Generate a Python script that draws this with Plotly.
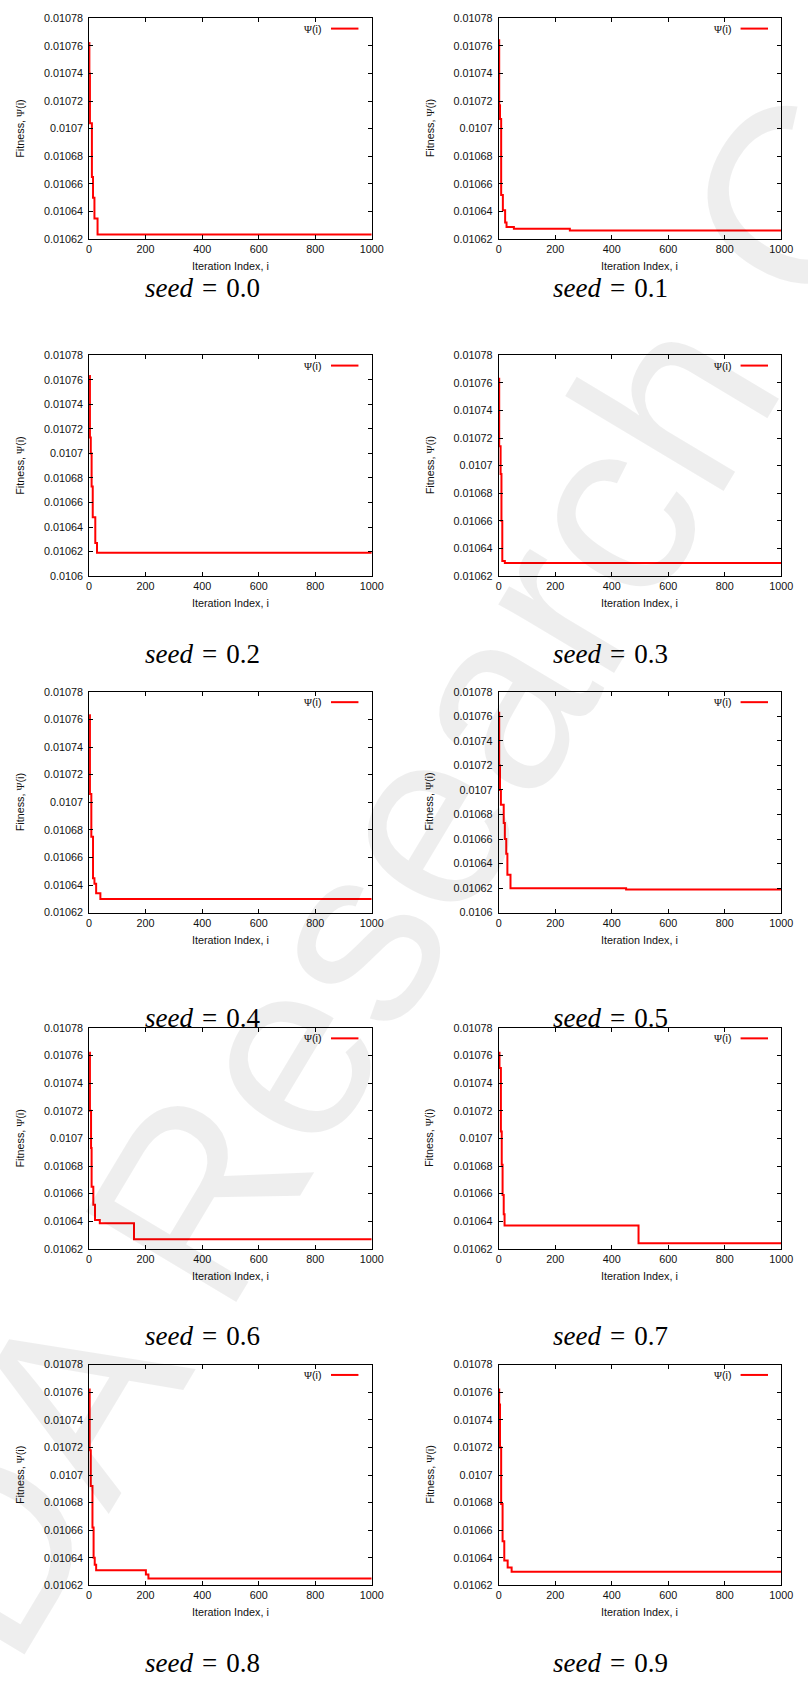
import plotly.graph_objects as go

# ---- data: best fitness Psi(i) per iteration (step changes only) ----
seed_labels = ["0.0", "0.1", "0.2", "0.3", "0.4", "0.5", "0.6", "0.7", "0.8", "0.9"]

iter_00 = [0, 1, 3, 10, 14, 19, 30, 1000]
fit_00 = [0.010762, 0.01074, 0.010704, 0.010665, 0.01065, 0.010635, 0.0106234, 0.0106234]

iter_01 = [0, 2, 5, 9, 15, 23, 28, 54, 252, 1000]
fit_01 = [0.010764, 0.010717, 0.010707, 0.010652, 0.010641, 0.010632, 0.0106287, 0.0106275, 0.0106263, 0.0106263]

iter_02 = [0, 3, 6, 9, 13, 22, 28, 1000]
fit_02 = [0.010763, 0.010713, 0.0107, 0.010673, 0.010648, 0.010627, 0.010619, 0.010619]

iter_03 = [0, 2, 7, 10, 13, 22, 1000]
fit_03 = [0.010763, 0.010714, 0.010694, 0.01066, 0.010631, 0.0106295, 0.0106295]

iter_04 = [0, 3, 8, 14, 19, 25, 40, 1000]
fit_04 = [0.010763, 0.010706, 0.010675, 0.010645, 0.010641, 0.010634, 0.01063, 0.01063]

iter_05 = [0, 2, 5, 8, 18, 22, 27, 31, 42, 451, 1000]
fit_05 = [0.010763, 0.01072, 0.0107, 0.010688, 0.010673, 0.01066, 0.010648, 0.010631, 0.01062, 0.0106188, 0.0106188]

iter_06 = [0, 3, 7, 9, 15, 21, 38, 159, 1000]
fit_06 = [0.010762, 0.01072, 0.010693, 0.010665, 0.010652, 0.010641, 0.0106385, 0.010627, 0.010627]

iter_07 = [0, 3, 8, 11, 14, 18, 21, 495, 1000]
fit_07 = [0.010762, 0.010751, 0.010705, 0.010681, 0.010659, 0.010645, 0.010637, 0.010624, 0.010624]

iter_08 = [0, 2, 6, 12, 16, 20, 25, 201, 210, 1000]
fit_08 = [0.010762, 0.010718, 0.010692, 0.010662, 0.01064, 0.010635, 0.010631, 0.010628, 0.010625, 0.010625]

iter_09 = [0, 2, 5, 9, 14, 20, 32, 46, 1000]
fit_09 = [0.010762, 0.010751, 0.01072, 0.010679, 0.010652, 0.010638, 0.010633, 0.01063, 0.01063]

# y-axis tick sets (two panels reach down to 0.0106)
y_ticks_short = [0.01062, 0.01064, 0.01066, 0.01068, 0.0107, 0.01072, 0.01074, 0.01076, 0.01078]
y_text_short = ["0.01062", "0.01064", "0.01066", "0.01068", "0.0107", "0.01072", "0.01074", "0.01076", "0.01078"]
y_ticks_long = [0.0106] + y_ticks_short
y_text_long = ["0.0106"] + y_text_short
x_ticks = [0, 200, 400, 600, 800, 1000]
x_text = ["0", "200", "400", "600", "800", "1000"]

series = [
    (iter_00, fit_00, False), (iter_01, fit_01, False),
    (iter_02, fit_02, True), (iter_03, fit_03, False),
    (iter_04, fit_04, False), (iter_05, fit_05, True),
    (iter_06, fit_06, False), (iter_07, fit_07, False),
    (iter_08, fit_08, False), (iter_09, fit_09, False),
]

# ---- page geometry (pixels) ----
W, H = 808, 1686
col_left = [87.7, 505.0]
plot_w = 288.0
row_top = [12.3, 351.7, 690.7, 1029.3, 1368.3]
plot_h = 222.5
label_y = [284, 653, 1019, 1340, 1669]
label_x = [203, 619]

SANS = "Liberation Sans, Arial, sans-serif"
SERIF = "Liberation Serif, Times New Roman, serif"
TICK_FONT = dict(family=SANS, size=10.8, color="#111")

fig = go.Figure()
layout = dict(
    width=W, height=H,
    margin=dict(l=0, r=0, t=0, b=0),
    paper_bgcolor="white", plot_bgcolor="rgba(0,0,0,0)",
    showlegend=False,
)
annotations = []
shapes = []

for k, (xs, ys, long_axis) in enumerate(series):
    r, c = divmod(k, 2)
    n = "" if k == 0 else str(k + 1)
    x0 = col_left[c] / W
    x1 = (col_left[c] + plot_w) / W
    y1 = 1 - row_top[r] / H
    y0 = 1 - (row_top[r] + plot_h) / H

    fig.add_trace(go.Scatter(
        x=xs, y=ys, mode="lines", line=dict(color="#ff0000", width=2, shape="hv"),
        xaxis="x" + n, yaxis="y" + n, name="Ψ(i)",
    ))

    yt = y_ticks_long if long_axis else y_ticks_short
    ytt = y_text_long if long_axis else y_text_short
    layout["xaxis" + n] = dict(
        domain=[x0, x1], anchor="y" + n, range=[0, 1000],
        tickvals=x_ticks, ticktext=x_text, ticks="inside", ticklen=4,
        tickcolor="black", showline=True, linecolor="black", linewidth=1,
        mirror="allticks", showgrid=False, zeroline=False, tickfont=TICK_FONT,
    )
    layout["yaxis" + n] = dict(
        domain=[y0, y1], anchor="x" + n, range=[yt[0], yt[-1]],
        tickvals=yt, ticktext=ytt, ticks="inside", ticklen=4,
        tickcolor="black", showline=True, linecolor="black", linewidth=1,
        mirror="allticks", showgrid=False, zeroline=False, tickfont=TICK_FONT,
        ticklabelstandoff=3,
    )

    xd, yd = "x" + n + " domain", "y" + n + " domain"
    # gnuplot-style key: text on the left, line sample on the right
    annotations.append(dict(
        xref=xd, yref=yd, x=0.831, y=0.953, xanchor="right", yanchor="middle",
        text="<span style='font-family:Liberation Serif'>Ψ</span>(i)", showarrow=False,
        font=dict(family=SANS, size=10.8, color="#111"),
    ))
    shapes.append(dict(
        type="line", xref=xd, yref=yd, x0=0.856, x1=0.953, y0=0.953, y1=0.953,
        line=dict(color="#ff0000", width=2),
    ))
    # axis titles
    annotations.append(dict(
        xref=xd, yref=yd, x=0.5, y=0, yshift=-27, xanchor="center", yanchor="middle",
        text="Iteration Index, i", showarrow=False,
        font=dict(family=SANS, size=10.8, color="#111"),
    ))
    annotations.append(dict(
        xref=xd, yref=yd, x=0, y=0.5, xshift=-69, xanchor="center", yanchor="middle",
        text="Fitness, <span style='font-family:Liberation Serif'>Ψ</span>(i)", textangle=-90,
        showarrow=False, font=dict(family=SANS, size=10.8, color="#111"),
    ))
    # subfigure caption
    annotations.append(dict(
        xref="paper", yref="paper", x=label_x[c] / W, y=1 - label_y[r] / H,
        xanchor="center", yanchor="middle",
        text="<i>seed</i>\u2004=\u2004" + seed_labels[k], showarrow=False,
        font=dict(family=SERIF, size=27, color="black"),
    ))

# faint diagonal watermark across the page
annotations.append(dict(
    xref="paper", yref="paper", x=395 / W, y=1 - 874 / H,
    xanchor="center", yanchor="middle", text="DA Research C", textangle=-59,
    showarrow=False, font=dict(family=SANS, size=255, color="rgba(0,0,0,0.065)"),
))

layout["annotations"] = annotations
layout["shapes"] = shapes
fig.update_layout(**layout)
fig.write_html("out.html")
